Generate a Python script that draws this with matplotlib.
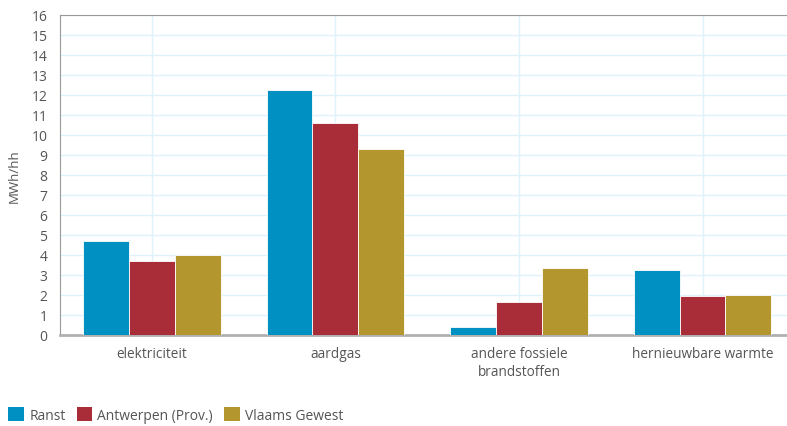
import matplotlib
matplotlib.use("Agg")
import matplotlib.pyplot as plt
import numpy as np
from matplotlib.patches import Patch

categories = ["elektriciteit", "aardgas", "andere fossiele\nbrandstoffen", "hernieuwbare warmte"]
series_names = ["Ranst", "Antwerpen (Prov.)", "Vlaams Gewest"]
ranst = [4.7, 12.25, 0.38, 3.25]
antwerpen = [3.7, 10.6, 1.65, 1.95]
vlaams = [4.0, 9.3, 3.35, 2.0]
colors = ["#0091c2", "#a82d39", "#b3962e"]
y_ticks = list(range(0, 17))

plt.rcParams['font.family'] = ['Open Sans', 'DejaVu Sans']
text_color = "#555555"

fig = plt.figure(figsize=(7.87, 4.27), dpi=100)
ax = fig.add_axes([60/787, (427-336)/427, 1 - 60/787, 320/427])

x = np.arange(len(categories))
w = 0.25
for i, (vals, c) in enumerate(zip([ranst, antwerpen, vlaams], colors)):
    ax.bar(x + (i - 1) * w, vals, width=w, color=c, zorder=3, edgecolor="white", linewidth=0.6)

ax.set_xlim(-0.5, 3.46)
ax.set_ylim(0, 16)
ax.set_yticks(y_ticks)
ax.set_xticks(x)
ax.set_xticklabels(categories, fontsize=9.8, color=text_color, linespacing=1.25)
ax.tick_params(axis='y', labelsize=10, labelcolor=text_color, length=0, pad=9)
ax.tick_params(axis='x', length=0, pad=8)
ax.grid(True, color="#ddf2fa", linewidth=1.0, zorder=0)
ax.set_axisbelow(True)
ax.spines["right"].set_visible(False)
ax.spines["top"].set_color("#999999")
ax.spines["top"].set_linewidth(0.8)
ax.spines["left"].set_color("#999999")
ax.spines["left"].set_linewidth(0.8)
ax.spines["bottom"].set_color("#b0b0b0")
ax.spines["bottom"].set_linewidth(2)
ax.set_ylabel("MWh/hh", fontsize=9.5, color=text_color, labelpad=8)

handles = [Patch(facecolor=c, edgecolor="none") for c in colors]
fig.legend(handles, series_names, loc="lower left", bbox_to_anchor=(0.0, -0.012), ncol=3,
           frameon=False, fontsize=10, labelcolor=text_color, handlelength=1.1,
           handleheight=1.1, handletextpad=0.4, columnspacing=0.8, borderaxespad=0.2)

fig.savefig("out.png", dpi=100)
